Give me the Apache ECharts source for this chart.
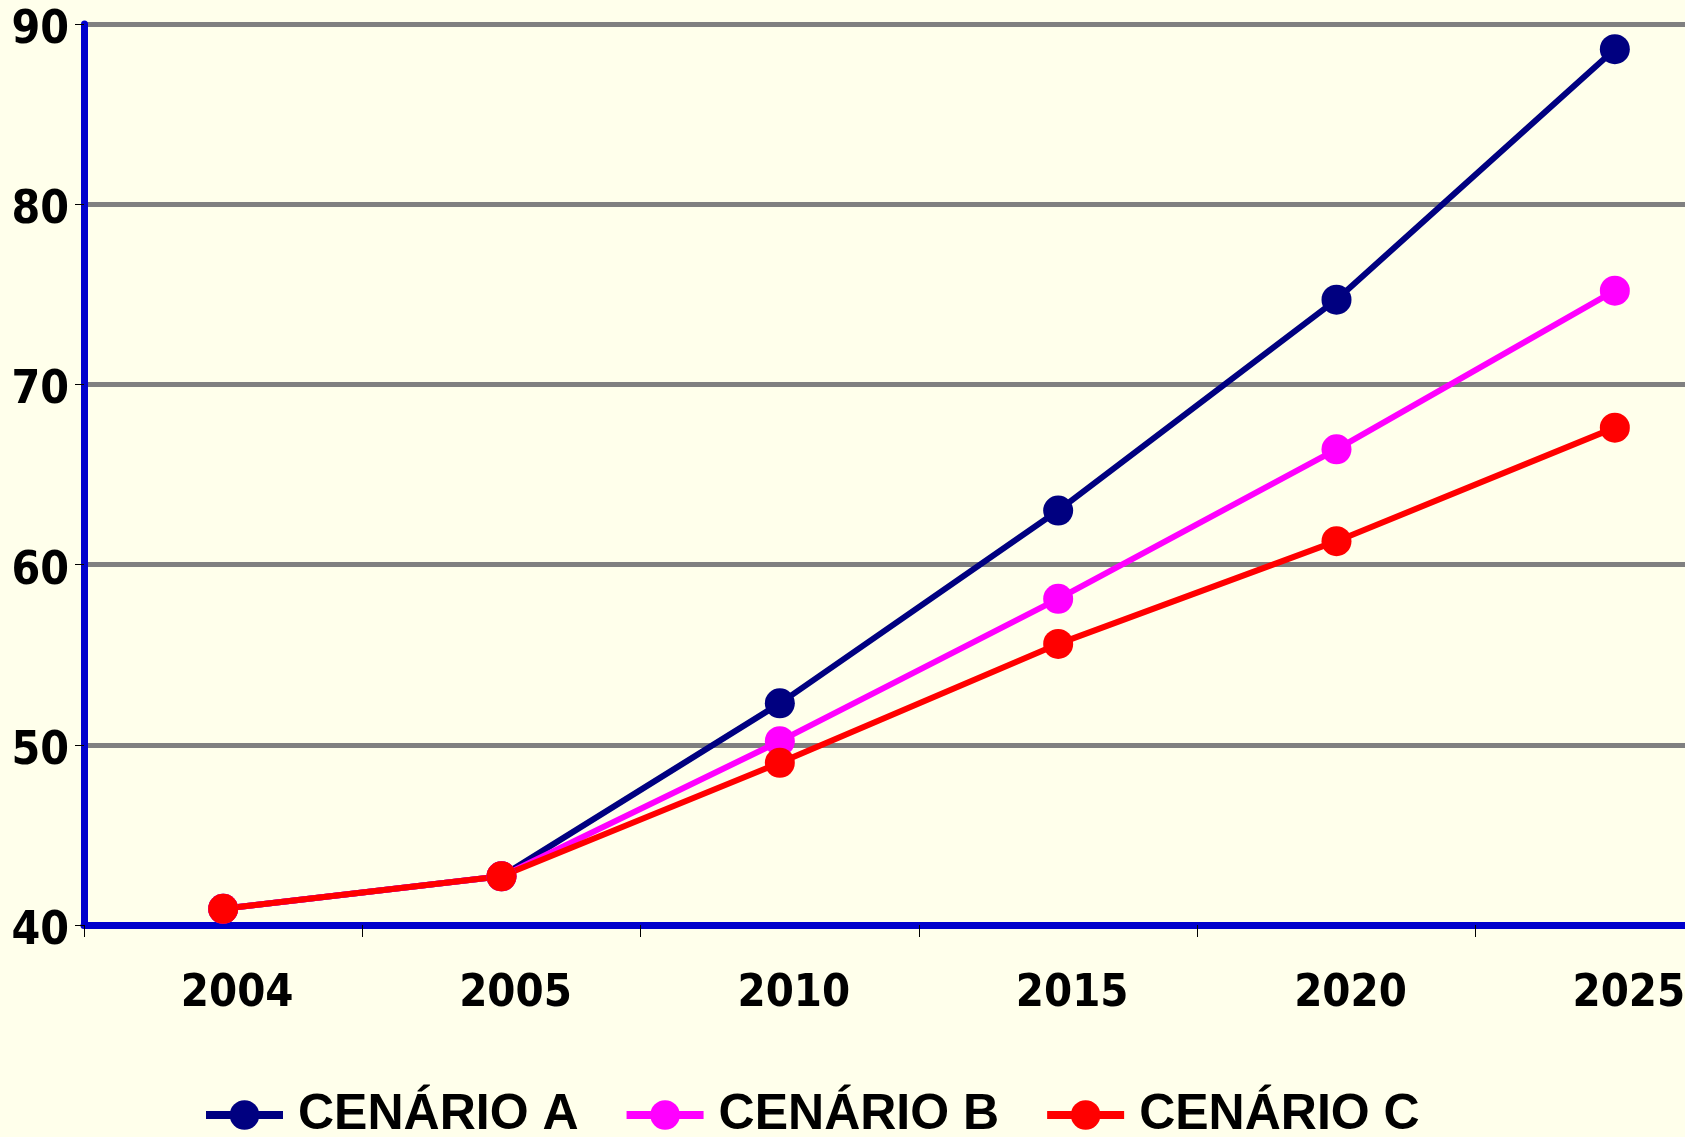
<!DOCTYPE html>
<html>
<head>
<meta charset="utf-8">
<title>Cenários</title>
<script src="https://cdn.jsdelivr.net/npm/echarts@6/dist/echarts.min.js"></script>
<style>
    html, body { margin: 0; padding: 0; background: #FFFFEB; }
    #chart { width: 1685px; height: 1137px; }
</style>
</head>
<body>
<div id="chart"></div>
<script>
// dados
const years = ['2004', '2005', '2010', '2015', '2020', '2025'];
const cenarioA = [40.9, 42.7, 52.3, 63.0, 74.7, 88.6];
const cenarioB = [40.9, 42.7, 50.2, 58.1, 66.4, 75.2];
const cenarioC = [40.9, 42.7, 49.0, 55.6, 61.3, 67.6];
const seriesNames = ['CENÁRIO A', 'CENÁRIO B', 'CENÁRIO C'];
const seriesColors = ['#000080', '#FF00FF', '#FF0000'];

const axisFont = "'DejaVu Sans Condensed', 'DejaVu Sans', sans-serif";

const chart = echarts.init(document.getElementById('chart'));

function makeSeries(name, data, color) {
    return {
        name: name,
        type: 'line',
        data: data,
        symbol: 'circle',
        symbolSize: 30,
        itemStyle: { color: color },
        lineStyle: { color: color, width: 6 },
        emphasis: { disabled: true },
        animation: false
    };
}

// a área do gráfico passa da borda direita, como no original
const option = {
    backgroundColor: '#FFFFEB',
    animation: false,
    grid: {
        left: 84,
        width: 1670,
        top: 24,
        height: 901,
        outerBoundsMode: 'none'
    },
    legend: {
        left: 202,
        top: 1090,
        padding: 0,
        itemWidth: 77,
        itemHeight: 37,
        itemGap: 44,
        lineStyle: { width: 8 },
        textStyle: {
            color: '#000',
            fontFamily: "'Liberation Sans', Arial, sans-serif",
            fontWeight: 'bold',
            fontSize: 50,
            padding: [0, 0, 0, 10]
        },
        data: seriesNames
    },
    xAxis: {
        type: 'category',
        data: years,
        boundaryGap: true,
        axisLine: { lineStyle: { color: '#0000CC', width: 7 } },
        axisTick: { show: true, length: 12, lineStyle: { color: '#000', width: 1 } },
        axisLabel: {
            color: '#000',
            fontFamily: axisFont,
            fontWeight: 'bold',
            fontSize: 45,
            margin: 47,
            padding: [0, 0, 0, 28]
        },
        splitLine: { show: false }
    },
    yAxis: {
        type: 'value',
        min: 40,
        max: 90,
        interval: 10,
        axisLine: { show: true, lineStyle: { color: '#0000CC', width: 7 } },
        axisTick: { show: true, length: 9, lineStyle: { color: '#000', width: 1 } },
        axisLabel: {
            color: '#000',
            fontFamily: axisFont,
            fontWeight: 'bold',
            fontSize: 46,
            margin: 15,
            verticalAlign: 'top',
            lineHeight: 14
        },
        splitLine: { lineStyle: { color: '#808080', width: 5 } }
    },
    series: [
        makeSeries(seriesNames[0], cenarioA, seriesColors[0]),
        makeSeries(seriesNames[1], cenarioB, seriesColors[1]),
        makeSeries(seriesNames[2], cenarioC, seriesColors[2])
    ]
};

chart.setOption(option);
</script>
</body>
</html>
